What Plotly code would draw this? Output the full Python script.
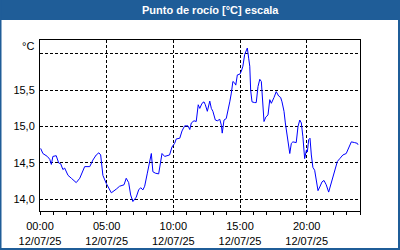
import plotly.graph_objects as go

times = ["00:03","00:13","00:33","00:44","00:51","00:58","01:13","01:24","01:33","01:43","01:51",
         "02:06","02:21","02:43","02:59","03:13","03:21","03:44","03:58","04:13","04:25","04:33",
         "04:43","04:58","05:21","05:43","05:58","06:18","06:28","06:39","06:48","06:58","07:13",
         "07:24","07:33","07:43","07:51","08:03","08:14","08:21","08:28","08:39","08:54","09:03",
         "09:09","09:21","09:43","09:54","10:06","10:13","10:29","10:39","10:51","11:06","11:14",
         "11:21","11:33","11:43","11:51","11:52","11:59","12:09","12:18","12:24","12:33","12:44",
         "12:51","12:58","13:09","13:18","13:29","13:36","13:40","13:48","13:58","14:06","14:14",
         "14:21","14:28","14:36","14:41","14:48","14:59","15:06","15:13","15:21","15:26","15:33",
         "15:39","15:44","15:48","15:54","16:06","16:13","16:21","16:29","16:36","16:43","16:48",
         "16:56","17:06","17:14","17:21","17:33","17:43","17:54","18:03","18:09","18:18","18:24",
         "18:33","18:44","18:51","18:58","19:13","19:21","19:29","19:36","19:43","19:51","19:59",
         "20:03","20:09","20:15","20:21","20:28","20:36","20:43","20:51","20:59","21:09","21:18",
         "21:28","21:39","21:51","22:06","22:18","22:29","22:43","22:58","23:09","23:21","23:36",
         "23:48","23:51"]
values = [14.70,14.63,14.59,14.55,14.48,14.59,14.60,14.50,14.49,14.41,14.43,
          14.33,14.29,14.23,14.29,14.38,14.45,14.45,14.54,14.61,14.64,14.61,
          14.33,14.22,14.09,14.14,14.18,14.20,14.29,14.23,14.06,13.97,14.03,
          14.13,14.16,14.13,14.18,14.36,14.54,14.63,14.38,14.36,14.35,14.49,
          14.63,14.59,14.61,14.72,14.77,14.83,14.84,14.94,15.01,15.01,14.96,
          15.05,15.08,15.07,15.23,15.30,15.25,15.32,15.34,15.30,15.21,15.35,
          15.25,15.21,15.09,15.08,15.10,15.02,14.91,15.09,15.11,15.21,15.34,
          15.46,15.62,15.60,15.57,15.71,15.72,15.76,15.83,15.99,16.03,16.08,
          15.94,15.83,15.50,15.34,15.33,15.33,15.55,15.65,15.62,15.27,15.07,
          15.13,15.16,15.37,15.32,15.40,15.48,15.42,15.40,15.34,15.21,15.05,
          14.84,14.63,14.77,14.79,14.78,15.00,15.09,15.05,14.86,14.56,14.68,
          14.65,14.82,14.84,14.61,14.44,14.40,14.29,14.12,14.17,14.24,14.26,
          14.20,14.10,14.22,14.38,14.52,14.56,14.61,14.63,14.72,14.79,14.78,
          14.77,14.75]

day = "2025-07-12"
y_tickvals = [14.0, 14.5, 15.0, 15.5, 16.0]
y_ticktext = ["14,0", "14,5", "15,0", "15,5", ""]
title_text = "Punto de rocío [°C] escala"
unit_text = "°C"

x = [f"{day} {t}:00" for t in times]

W, H = 400, 250
L, R, T, B = 40, 40, 40, 39
pw, ph = W - L - R, H - T - B

def px(xp):
    return (xp - L) / pw

def py(yp):
    return (H - B - yp) / ph

FONT = "Liberation Sans"
BLUE = "#1f5d98"

fig = go.Figure()
fig.add_trace(go.Scatter(x=x, y=values, mode="lines",
                         line=dict(color="#0000ff", width=1), hoverinfo="skip"))

fig.update_layout(
    width=W, height=H,
    margin=dict(l=L, r=R, t=T, b=B, autoexpand=False),
    paper_bgcolor="white", plot_bgcolor="white",
    showlegend=False,
    font=dict(family=FONT, size=11, color="black"),
    xaxis=dict(
        type="date",
        range=[f"{day} 00:00:00", "2025-07-13 00:00:00"],
        tick0=f"{day} 00:00:00", dtick=5 * 3600000,
        tickformat="%H:%M<br>%d/%m/%y",
        ticks="outside", ticklen=3, tickcolor="black",
        ticklabelstandoff=2, automargin=False,
        showline=True, linecolor="black", linewidth=1, mirror=True,
        showgrid=True, gridcolor="black", griddash="3px,2px", gridwidth=1,
        minor=dict(dtick=3600000, ticks="outside", ticklen=3, tickcolor="black", showgrid=False),
        zeroline=False, fixedrange=True,
    ),
    yaxis=dict(
        range=[13.84, 16.19],
        tickvals=y_tickvals, ticktext=y_ticktext,
        ticks="outside", ticklen=2, tickcolor="white", automargin=False,
        showline=True, linecolor="black", linewidth=1, mirror=True,
        showgrid=True, gridcolor="black", griddash="3px,2px", gridwidth=1,
        zeroline=False, fixedrange=True,
    ),
    shapes=[
        dict(type="rect", xref="paper", yref="paper",
             x0=px(0), x1=px(W), y0=py(20), y1=py(0),
             fillcolor=BLUE, line=dict(width=0), layer="above"),
        dict(type="rect", xref="paper", yref="paper",
             x0=px(0), x1=px(1.5), y0=py(H), y1=py(0),
             fillcolor=BLUE, line=dict(width=0), layer="above"),
        dict(type="rect", xref="paper", yref="paper",
             x0=px(W - 2), x1=px(W), y0=py(H), y1=py(0),
             fillcolor=BLUE, line=dict(width=0), layer="above"),
        dict(type="rect", xref="paper", yref="paper",
             x0=px(0), x1=px(W), y0=py(H), y1=py(H - 2),
             fillcolor=BLUE, line=dict(width=0), layer="above"),
    ],
    annotations=[
        dict(text=f"<b>{title_text}</b>", xref="paper", yref="paper",
             x=px(210), y=py(10), xanchor="center", yanchor="middle",
             showarrow=False, font=dict(family=FONT, size=11, color="white")),
        dict(text=unit_text, xref="paper", yref="paper",
             x=px(36), y=py(45.5), xanchor="right", yanchor="middle",
             showarrow=False, font=dict(family=FONT, size=11, color="black")),
    ],
)

fig.write_html("out.html")
